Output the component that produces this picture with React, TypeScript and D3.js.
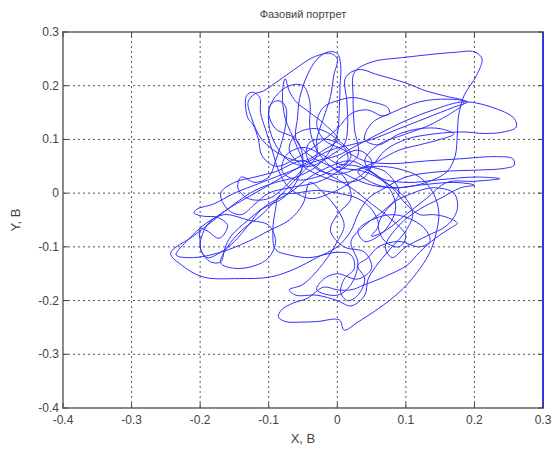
import React from 'react';
import * as d3 from 'd3';

const titleText = 'Фазовий портрет';
const xLabel = 'X, B';
const yLabel = 'Y, B';
const xTicks = [-0.4, -0.3, -0.2, -0.1, 0, 0.1, 0.2, 0.3];
const yTicks = [-0.4, -0.3, -0.2, -0.1, 0, 0.1, 0.2, 0.3];
const tickLabels = ['-0.4', '-0.3', '-0.2', '-0.1', '0', '0.1', '0.2', '0.3'];

// hand-read trajectory, split into segments (data units, volts)
const seg1: [number, number][] = [[0.00,0.04],[0.03,0.07],[0.025,0.12],[0.023,0.18],[0.025,0.225],[0.05,0.244],[0.10,0.253],[0.17,0.262],[0.20,0.263],[0.211,0.25],[0.203,0.219],[0.185,0.182],[0.177,0.145],[0.175,0.108],[0.172,0.07],[0.16,0.04],[0.13,0.02],[0.09,0.01],[0.05,0.015],[0.02,0.03],[-0.01,0.05],[-0.04,0.07],[-0.06,0.1]];
const seg2: [number, number][] = [[-0.058,0.14],[-0.055,0.176],[-0.044,0.219],[-0.029,0.25],[-0.013,0.263],[0.0,0.26],[0.005,0.238],[0.004,0.2],[0.003,0.157],[0.0,0.11],[-0.01,0.08],[-0.03,0.05],[-0.06,0.03],[-0.09,0.02],[-0.12,0.005],[-0.15,-0.02],[-0.18,-0.05],[-0.21,-0.08],[-0.243,-0.112],[-0.227,-0.134],[-0.196,-0.156],[-0.143,-0.159],[-0.097,-0.156],[-0.06,-0.14],[-0.03,-0.12],[0.0,-0.1],[0.02,-0.07],[0.03,-0.04],[0.045,-0.01],[0.07,0.01],[0.1,0.03],[0.15,0.04],[0.206,0.043],[0.243,0.046],[0.258,0.052],[0.256,0.064],[0.232,0.068],[0.18,0.064],[0.13,0.06],[0.08,0.055],[0.04,0.06],[0.01,0.08],[-0.02,0.1],[-0.03,0.13],[-0.02,0.16]];
const seg3: [number, number][] = [[0.0,0.172],[0.023,0.178],[0.05,0.17],[0.073,0.16],[0.076,0.148],[0.065,0.144],[0.044,0.155],[0.02,0.148],[0.0,0.12],[-0.03,0.09],[-0.06,0.065],[-0.09,0.05],[-0.11,0.07],[-0.115,0.1],[-0.123,0.128],[-0.13,0.139],[-0.134,0.164],[-0.132,0.182],[-0.123,0.188],[-0.113,0.178],[-0.112,0.15],[-0.105,0.12],[-0.095,0.08],[-0.085,0.04],[-0.07,0.01],[-0.04,-0.01],[-0.01,0.0],[0.02,0.02],[0.05,0.05],[0.07,0.08],[0.1,0.1],[0.128,0.108],[0.18,0.114],[0.216,0.111],[0.243,0.114],[0.261,0.123],[0.258,0.139],[0.232,0.157],[0.185,0.17],[0.14,0.155],[0.1,0.135],[0.06,0.11],[0.03,0.09],[0.0,0.07],[-0.03,0.06]];
const seg4: [number, number][] = [[-0.07,0.04],[-0.11,0.02],[-0.15,0.0],[-0.18,-0.02],[-0.205,-0.03],[-0.209,-0.037],[-0.195,-0.043],[-0.175,-0.045],[-0.16,-0.06],[-0.172,-0.084],[-0.19,-0.07],[-0.2,-0.066],[-0.2,-0.09],[-0.198,-0.109],[-0.185,-0.128],[-0.17,-0.128],[-0.164,-0.103],[-0.155,-0.08],[-0.13,-0.05],[-0.1,-0.02],[-0.07,0.0],[-0.04,0.03],[-0.01,0.05],[0.02,0.06]];
const seg5: [number, number][] = [[0.05,0.04],[0.08,0.01],[0.1,-0.02],[0.12,-0.04],[0.14,-0.04],[0.16,-0.045],[0.175,-0.056],[0.165,-0.065],[0.143,-0.084],[0.12,-0.11],[0.102,-0.134],[0.07,-0.155],[0.039,-0.171],[0.02,-0.18],[0.0,-0.18],[-0.02,-0.175],[-0.044,-0.196],[-0.065,-0.205],[-0.081,-0.217],[-0.086,-0.23],[-0.076,-0.239],[-0.05,-0.24],[-0.029,-0.239],[0.003,-0.236],[0.01,-0.255],[0.03,-0.24],[0.06,-0.215],[0.09,-0.185],[0.115,-0.15],[0.135,-0.11],[0.145,-0.07],[0.148,-0.035],[0.14,0.0],[0.12,0.03],[0.09,0.045],[0.06,0.05],[0.03,0.045]];
const seg6: [number, number][] = [[0.0,0.035],[-0.03,0.045],[-0.045,0.07],[-0.04,0.095],[-0.015,0.1],[0.01,0.085],[0.015,0.06],[-0.005,0.045],[-0.03,0.03],[-0.06,0.025],[-0.08,0.04],[-0.075,0.07],[-0.05,0.085],[-0.02,0.07],[0.0,0.055],[0.03,0.05],[0.06,0.03],[0.08,0.0],[0.085,-0.03],[0.075,-0.06],[0.06,-0.08],[0.04,-0.09],[0.03,-0.07],[0.05,-0.05],[0.08,-0.04],[0.11,-0.05],[0.13,-0.07],[0.135,-0.09],[0.12,-0.1],[0.09,-0.09],[0.06,-0.1],[0.045,-0.12]];
const seg7: [number, number][] = [[0.03,-0.135],[0.04,-0.16],[0.03,-0.19],[0.015,-0.2],[0.005,-0.185],[0.01,-0.16],[0.025,-0.14],[0.02,-0.115],[0.0,-0.11],[-0.04,-0.12],[-0.07,-0.115],[-0.09,-0.105],[-0.094,-0.07],[-0.09,-0.03],[-0.085,-0.005],[-0.06,0.0],[-0.03,0.005],[0.0,0.0],[0.03,-0.01],[0.05,-0.03]];
const seg8: [number, number][] = [[0.06,-0.06],[0.05,-0.08],[0.07,-0.07],[0.1,-0.04],[0.13,-0.01],[0.16,0.02],[0.2,0.022],[0.237,0.027],[0.2,0.03],[0.15,0.025],[0.1,0.02],[0.06,0.03],[0.04,0.06],[0.06,0.09],[0.1,0.11],[0.14,0.13],[0.185,0.17],[0.16,0.18],[0.13,0.19],[0.1,0.205],[0.06,0.22],[0.03,0.23],[0.012,0.215],[0.014,0.17],[0.015,0.12],[0.01,0.09]];
const seg9: [number, number][] = [[-0.01,0.07],[-0.04,0.05],[-0.07,0.06],[-0.09,0.09],[-0.1,0.13],[-0.097,0.165],[-0.085,0.172],[-0.075,0.16],[-0.075,0.13],[-0.08,0.1],[-0.09,0.06],[-0.1,0.03],[-0.12,0.02],[-0.14,0.03],[-0.145,0.01],[-0.13,-0.01],[-0.1,-0.01],[-0.07,0.02],[-0.05,0.05],[-0.06,0.09],[-0.076,0.14],[-0.08,0.185],[-0.076,0.213],[-0.07,0.19],[-0.06,0.17],[-0.04,0.15],[-0.02,0.13],[0.0,0.1]];
const seg10: [number, number][] = [[-0.02,0.08],[-0.05,0.06],[-0.08,0.07],[-0.11,0.1],[-0.125,0.14],[-0.13,0.17],[-0.12,0.185],[-0.108,0.19],[-0.085,0.21],[-0.064,0.229],[-0.035,0.253],[-0.01,0.26],[0.0,0.25],[-0.005,0.22],[-0.01,0.18],[-0.02,0.14],[-0.03,0.1],[-0.03,0.07]];
const seg11: [number, number][] = [[-0.05,0.04],[-0.08,0.0],[-0.11,-0.04],[-0.14,-0.07],[-0.16,-0.1],[-0.17,-0.13],[-0.15,-0.14],[-0.12,-0.135],[-0.1,-0.12],[-0.09,-0.09],[-0.1,-0.06],[-0.13,-0.05],[-0.165,-0.04],[-0.19,-0.055],[-0.22,-0.09],[-0.235,-0.115],[-0.21,-0.12],[-0.17,-0.11],[-0.13,-0.09],[-0.1,-0.07],[-0.07,-0.05],[-0.05,-0.02],[-0.04,0.02]];
const seg12: [number, number][] = [[-0.02,0.0],[0.0,-0.03],[0.01,-0.06],[0.0,-0.09],[-0.02,-0.13],[-0.05,-0.17],[-0.07,-0.18],[-0.06,-0.19],[-0.03,-0.19],[0.0,-0.2],[0.02,-0.21],[0.04,-0.19],[0.045,-0.16],[0.06,-0.13],[0.08,-0.1],[0.1,-0.07],[0.11,-0.04],[0.1,-0.01],[0.07,0.02],[0.04,0.04],[0.0,0.05]];
const seg13: [number, number][] = [[0.0,0.06],[0.03,0.08],[0.05,0.06],[0.04,0.03],[0.01,0.02],[-0.02,0.03],[-0.05,0.05],[-0.07,0.08],[-0.06,0.11],[-0.03,0.12],[0.0,0.1],[0.02,0.07],[0.0,0.04],[-0.03,0.02],[-0.07,0.01],[-0.1,0.0],[-0.12,-0.02],[-0.14,-0.04],[-0.16,-0.03],[-0.17,0.0],[-0.15,0.02],[-0.12,0.03],[-0.09,0.04],[-0.05,0.06]];
const seg14: [number, number][] = [[-0.02,0.04],[0.02,0.01],[0.05,-0.02],[0.08,-0.05],[0.1,-0.08],[0.09,-0.1],[0.07,-0.09],[0.06,-0.06],[0.08,-0.02],[0.11,0.0],[0.14,0.01],[0.17,0.0],[0.175,-0.03],[0.16,-0.06],[0.13,-0.08],[0.1,-0.1],[0.08,-0.12],[0.07,-0.1],[0.09,-0.06],[0.12,-0.03],[0.15,-0.01],[0.18,0.01],[0.2,0.015],[0.17,0.02],[0.12,0.015],[0.08,0.01],[0.05,0.02]];
const seg15: [number, number][] = [[0.03,0.04],[0.06,0.06],[0.09,0.08],[0.12,0.09],[0.15,0.1],[0.17,0.11],[0.15,0.12],[0.12,0.12],[0.09,0.11],[0.06,0.09],[0.04,0.1],[0.05,0.13],[0.08,0.15],[0.12,0.17],[0.16,0.175],[0.19,0.17],[0.17,0.16],[0.13,0.14],[0.09,0.12],[0.05,0.1],[0.02,0.09]];
const seg16: [number, number][] = [[-0.01,0.08],[-0.04,0.06],[-0.08,0.03],[-0.12,0.0],[-0.16,-0.03],[-0.19,-0.06],[-0.2,-0.1],[-0.19,-0.12],[-0.17,-0.11],[-0.15,-0.09],[-0.13,-0.06],[-0.11,-0.03],[-0.08,-0.01],[-0.06,0.02],[-0.05,0.06],[-0.06,0.1],[-0.09,0.12],[-0.1,0.15],[-0.09,0.18],[-0.07,0.2],[-0.05,0.2],[-0.04,0.17],[-0.04,0.12],[-0.03,0.08],[-0.01,0.05]];
const seg17: [number, number][] = [[0.01,0.03],[0.02,-0.01],[0.0,-0.04],[-0.01,-0.07],[0.01,-0.1],[0.04,-0.11],[0.05,-0.14],[0.03,-0.16],[0.0,-0.15],[-0.02,-0.16],[-0.03,-0.18],[0.0,-0.19],[0.02,-0.17],[0.03,-0.13],[0.02,-0.09],[0.04,-0.06],[0.07,-0.03],[0.09,0.0],[0.07,0.04],[0.04,0.05]];
const edgeSegment: [number, number][] = [[0.3,-0.4],[0.3,0.3]];

const W = 557, H = 450;
const L = 63, R = 543, T = 32, B = 408;

export default function App() {
  const x = d3.scaleLinear().domain([-0.4, 0.3]).range([L, R]);
  const y = d3.scaleLinear().domain([-0.4, 0.3]).range([B, T]);
  const traj = [...seg1, ...seg2, ...seg3, ...seg4, ...seg5, ...seg6, ...seg7, ...seg8, ...seg9, ...seg10, ...seg11, ...seg12, ...seg13, ...seg14, ...seg15, ...seg16, ...seg17];
  const line = d3.line<[number, number]>().x(d => x(d[0])).y(d => y(d[1])).curve(d3.curveCatmullRom.alpha(0.5));
  const straight = d3.line<[number, number]>().x(d => x(d[0])).y(d => y(d[1]));
  const font = 'Liberation Sans, Arial, sans-serif';
  const textColor = '#4a4040';
  return (
    <svg width={W} height={H} style={{ position: 'absolute', left: 0, top: 0, background: '#fff' }}>
      <rect x={0} y={0} width={W} height={H} fill="#fff" />
      {xTicks.map((t, i) => (
        <line key={'gx' + i} x1={x(t)} x2={x(t)} y1={B} y2={T} stroke="#555" strokeWidth={1} strokeDasharray="2,3" />
      ))}
      {yTicks.map((t, i) => (
        <line key={'gy' + i} x1={L} x2={R} y1={y(t)} y2={y(t)} stroke="#555" strokeWidth={1} strokeDasharray="2,3" />
      ))}
      <path d={line(traj) || ''} fill="none" stroke="#3030ff" strokeWidth={1} strokeLinejoin="round" />
      <rect x={L} y={T} width={R - L} height={B - T} fill="none" stroke="#8a8a8a" strokeWidth={2} />
      <path d={straight(edgeSegment) || ''} fill="none" stroke="#1a1aff" strokeWidth={1.5} />
      {xTicks.map((t, i) => (
        <g key={'tx' + i}>
          <line x1={x(t)} x2={x(t)} y1={B} y2={B - 5} stroke="#444" />
          <line x1={x(t)} x2={x(t)} y1={T} y2={T + 5} stroke="#444" />
          <text x={x(t)} y={B + 16} textAnchor="middle" fontFamily={font} fontSize={12} fill={textColor}>{tickLabels[i]}</text>
        </g>
      ))}
      {yTicks.map((t, i) => (
        <g key={'ty' + i}>
          <line x1={L} x2={L + 5} y1={y(t)} y2={y(t)} stroke="#444" />
          <line x1={R} x2={R - 5} y1={y(t)} y2={y(t)} stroke="#444" />
          <text x={L - 4} y={y(t) + 4} textAnchor="end" fontFamily={font} fontSize={12} fill={textColor}>{tickLabels[i]}</text>
        </g>
      ))}
      <text x={(L + R) / 2} y={18} textAnchor="middle" fontFamily={font} fontSize={11} fill={textColor}>{titleText}</text>
      <text x={(L + R) / 2} y={443} textAnchor="middle" fontFamily={font} fontSize={13} fill={textColor}>{xLabel}</text>
      <text transform={`translate(20,${(T + B) / 2}) rotate(-90)`} textAnchor="middle" fontFamily={font} fontSize={13} fill={textColor}>{yLabel}</text>
    </svg>
  );
}
